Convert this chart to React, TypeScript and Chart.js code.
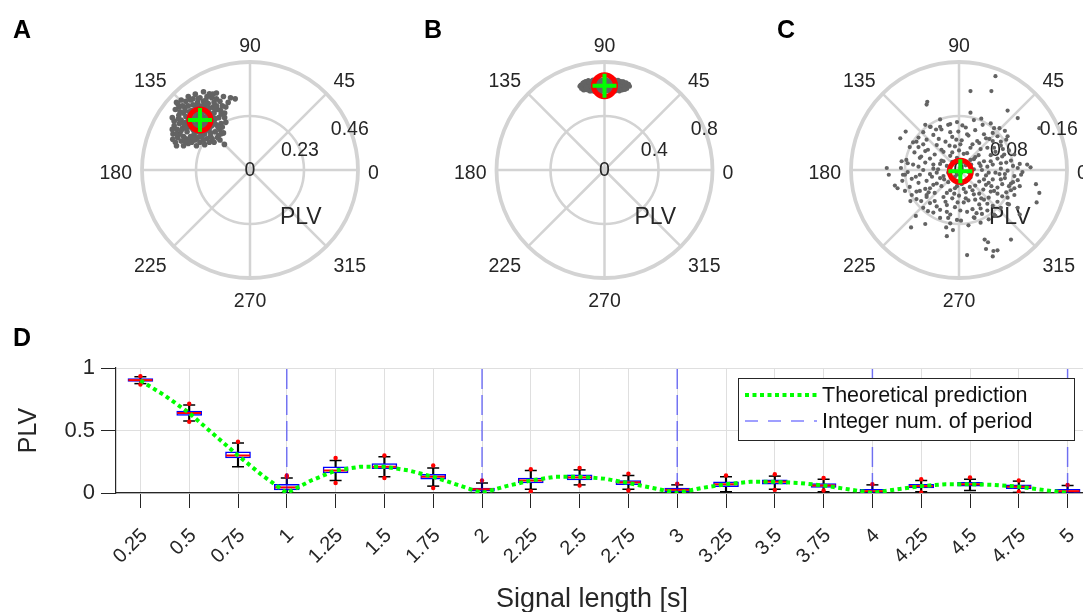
import React, { useEffect, useRef } from 'react';
import { Chart, registerables } from 'chart.js';

Chart.register(...registerables);

const FONT = '"Liberation Sans", Arial, Helvetica, sans-serif';
const TEXT = '#262626';
const POLAR_GRID = '#d3d3d3';
const CLOUD_COLOR = '#636363';

const ANGLES = [0, 45, 90, 135, 180, 225, 270, 315];
const ANGLE_LABELS = ['0', '45', '90', '135', '180', '225', '270', '315'];

// ---------- Panel A (offsets from the mean, in thousandths of PLV) ----------
const A_RINGS = [0.23, 0.46];
const A_RING_LABELS = ['0.23', '0.46'];
const A_MEAN = [-0.213, 0.213];
const A_CLOUD = [
  [0,0],[20,10],[-15,25],[35,-10],[-30,-20],[10,-35],[-40,5],[25,35],[45,20],[-20,-45],[5,45],[-45,35],[40,-35],[-10,-15],[15,-20],[30,0],[-25,0],[0,25],[-5,-30],[50,-5],
  [10,15],[-20,10],[30,20],[-35,-5],[15,-5],[5,-55],[-25,-60],[55,10],[-55,-25],[30,-25],[-15,45],[20,55],[-50,10],[65,5],[-70,-70],[80,-65],[-30,90],[50,95],[90,-15],[-90,55],
  [60,30],[-60,-10],[55,55],[-50,60],[-70,30],[70,-20],[-55,-50],[20,-60],[-30,65],[35,70],[-75,-35],[65,-50],[0,-70],[-10,75],[80,10],[-80,0],[45,-70],[-40,-70],[75,45],[15,80],
  [-65,55],[85,-40],[-85,-60],[30,-80],[-20,-85],[60,75],[-5,60],[40,50],[-35,40],[25,-45],[-60,15],[10,60],[50,-25],[-45,-30],[90,25],
  [95,60],[105,30],[110,-10],[100,-55],[85,-85],[104,-104],[60,-95],[20,-105],[-15,-110],[-50,-100],[-80,-90],[-105,-95],[-115,-60],[-110,-25],[-118,10],[-105,45],[-100,75],[-80,85],
  [-50,100],[-20,110],[15,120],[40,112],[70,115],[100,100],[130,95],[150,90],[120,75],[-95,-75],[-60,-80],[-110,-5],[-90,20],[70,90],[-70,-110],[-95,70],
  [-98,-40],[-88,-15],[-75,60],[-40,85],[0,95],[30,100],[85,80],[105,10],[95,-30],[75,-75],[40,-95],[0,-95],[-35,-95],[-100,-110],[-118,-40],[-60,-35],[-20,-25],[20,-10],[45,-55],
  [-5,10],[70,60],[-70,-15],[25,85],[-45,-85],[110,55],[-85,35],[60,-10],[-30,-40],[15,-85],[-10,-75],
  [-62,-92],[-28,-78],[8,-72],[52,-80],[92,-58],[-102,-60],[-92,5],[-64,40],[-22,62],[28,68],[62,48],[88,40],[-48,-12],[-12,-50],[38,-8],
  [-80,-45],[-38,20],[8,30],[40,30],[-8,90],[55,110],[-60,80],[-116,-82],[78,-32],[22,-28],
];

// ---------- Panel B ----------
const B_RINGS = [0.4, 0.8];
const B_RING_LABELS = ['0.4', '0.8'];
const B_MEAN = [0, 0.625];
const B_CLOUD = [
  [-175,5],[-165,-15],[-160,20],[-150,0],[-145,-30],[-140,30],[-130,10],[-125,-20],[-120,38],[-110,-40],[-105,15],[-100,-5],[-95,35],[-90,-25],[-85,42],[-80,0],
  [-75,-44],[-70,20],[-65,-15],[-60,35],[-55,-35],[-50,5],[-45,45],[-40,-20],[-35,25],[-30,-45],[-25,10],[-20,-10],[-15,40],[-10,-30],[-5,20],[0,-48],[5,0],[10,45],
  [15,-20],[20,30],[25,-40],[30,10],[35,-5],[40,40],[45,-30],[50,20],[55,-45],[60,0],[65,35],[70,-20],[75,44],[80,-40],[85,15],[90,-5],[95,30],[100,-30],[105,10],
  [110,-40],[115,33],[120,-15],[125,20],[130,-32],[135,5],[140,28],[145,-20],[150,10],[155,-10],[160,22],[165,-22],[170,0],[178,10],[185,-5],[-182,-5],[-170,-22],
  [-155,-32],[-135,-10],[-115,25],[-60,-5],[0,20],[60,-25],[-20,38],[20,-5],[100,40],[-100,-40],[130,28],[-130,-30],[-150,25],[150,-28],
];

// ---------- Panel C ----------
const C_RINGS = [0.08, 0.16];
const C_RING_LABELS = ['0.08', '0.16'];
const C_MEAN = [0.002, -0.002];
const C_CLOUD = [
  [-30,77],[-5,73],[20,76],[45,71],
  [-45,66],[-15,70],[8,65],[33,69],[58,64],
  [-55,58],[-28,62],[-3,59],[22,61],[48,57],[66,60],
  [-62,50],[-40,54],[-12,51],[12,53],[38,49],[55,52],
  [-70,43],[-50,47],[-22,44],[2,46],[28,42],[48,45],[68,47],
  [-75,36],[-35,39],[-8,37],[18,40],[40,35],[60,38],
  [-68,28],[-48,32],[-25,29],[-2,31],[10,27],[30,33],[52,29],[72,31],
  [-58,22],[-38,25],[-15,23],[5,26],[22,21],[45,24],[62,22],[80,25],
  [-80,17],[-45,19],[-28,16],[-5,20],[15,17],[35,15],[55,19],[75,16],
  [-70,10],[-52,13],[-30,11],[-12,14],[8,9],[28,12],[48,10],[68,13],[88,11],
  [-88,5],[-62,7],[-40,4],[-20,8],[0,5],[20,3],[40,7],[60,4],[78,8],
  [-78,-1],[-55,2],[-35,-2],[-15,1],[12,-1],[32,2],[52,-2],[70,1],[92,-1],
  [-85,-5],[-66,-8],[-45,-4],[-25,-7],[-5,-5],[15,-9],[38,-6],[58,-4],[80,-7],
  [-72,-11],[-50,-14],[-30,-10],[-10,-13],[10,-11],[28,-15],[48,-12],[66,-10],[85,-13],
  [-62,-17],[-40,-20],[-18,-16],[2,-19],[22,-21],[42,-17],[62,-19],[78,-16],
  [-75,-23],[-52,-26],[-28,-22],[-8,-25],[14,-23],[34,-27],[55,-24],[72,-22],
  [-60,-29],[-38,-32],[-15,-28],[8,-31],[28,-33],[50,-29],[68,-31],
  [-50,-35],[-25,-38],[-2,-36],[20,-34],[42,-39],[62,-37],[80,-35],
  [-65,-41],[-38,-44],[-12,-40],[12,-43],[35,-42],[55,-45],
  [-45,-47],[-20,-50],[5,-46],[28,-49],[48,-51],[70,-48],
  [-55,-54],[-30,-57],[-8,-53],[18,-56],[40,-58],[60,-54],
  [-40,-61],[-15,-64],[10,-60],[32,-63],[52,-66],
  [-30,-69],[-5,-72],[20,-68],[42,-71],
  [-15,-77],[12,-80],[30,-76],
  [-40,10],[-18,-2],[2,12],[25,-5],[45,15],[-35,-18],[-5,-22],[18,-28],[38,-20],[-28,32],[0,40],[25,45],[-50,-38],[-22,-45],[8,-40],
  [30,-55],[-60,20],[60,-12],[-45,-25],[45,-30],[-12,28],[15,35],[-32,48],[35,55],[-65,-30],[65,25],[-8,-8],[8,-15],[30,8],[-25,15],
  [50,35],[-55,40],[22,-42],[-35,-52],[0,-58],[40,-48],[-15,58],[10,55],[75,-28],[-78,12],[85,5],[-20,-32],[20,18],[-42,-8],[42,-2],
  [-33,3],[-9,-33],[14,-2],[35,-12],[55,-33],[-20,-60],[-47,-31],[-60,-5],[-6,47],[27,24],[43,48],[-52,30],[5,-26],[66,-4],[-16,38],
  [-72,-35],[24,-62],[60,12],[-36,62],[3,68],[75,-18],[-86,-14],[88,-22],[16,10],[-24,-12],[46,-22],[-4,-46],[-58,-44],[31,-40],[63,33],
  [52,141],[15,119],[46,119],[-49,103],[-50,99],[15,87],[70,90],[85,79],[-52,69],[-44,66],[-89,49],[-81,59],[117,64],[70,52],[-65,44],
  [-62,36],[-109,5],[-106,-5],[99,10],[104,6],[-97,-21],[-93,-25],[-82,-29],[112,-19],[117,-32],[113,-46],[-66,-66],[-52,-78],[-73,-83],
  [-21,-83],[-11,-87],[-20,-96],[36,-101],[41,-105],[38,-115],[49,-118],[55,-117],[75,-101],[10,-124],[48,-126],[88,-64],[85,-54],[72,-49],
  [-30,66],[-18,69],[31,78],[50,64],[60,44],[-18,-69],[1,-73],[21,-69],[50,-64],[70,-39],[80,-25],[90,-5],[-87,15],[-82,-5],[-74,-44],[-48,-59],
];

// ---------- Panel D ----------
const LENGTHS = [0.25, 0.5, 0.75, 1, 1.25, 1.5, 1.75, 2, 2.25, 2.5, 2.75, 3, 3.25, 3.5, 3.75, 4, 4.25, 4.5, 4.75, 5];
const TICK_LABELS = ['0.25', '0.5', '0.75', '1', '1.25', '1.5', '1.75', '2', '2.25', '2.5', '2.75', '3', '3.25', '3.5', '3.75', '4', '4.25', '4.5', '4.75', '5'];
const WHISK_LO = [0.875, 0.576, 0.21, 0.0, 0.10, 0.13, 0.055, 0.0, 0.03, 0.065, 0.03, 0.0, 0.01, 0.03, 0.01, 0.0, 0.01, 0.02, 0.005, 0.0];
const Q1 = [0.893, 0.62, 0.28, 0.025, 0.16, 0.195, 0.11, 0.015, 0.08, 0.105, 0.067, 0.01, 0.05, 0.07, 0.045, 0.005, 0.04, 0.055, 0.035, 0.005];
const MEDIAN = [0.903, 0.64, 0.30, 0.045, 0.18, 0.21, 0.13, 0.03, 0.10, 0.125, 0.085, 0.025, 0.07, 0.09, 0.06, 0.015, 0.055, 0.07, 0.05, 0.015];
const Q3 = [0.915, 0.656, 0.33, 0.07, 0.21, 0.235, 0.15, 0.04, 0.12, 0.145, 0.10, 0.04, 0.09, 0.105, 0.075, 0.03, 0.07, 0.085, 0.065, 0.03];
const WHISK_HI = [0.93, 0.704, 0.40, 0.12, 0.26, 0.29, 0.20, 0.08, 0.18, 0.185, 0.14, 0.065, 0.13, 0.135, 0.11, 0.065, 0.10, 0.11, 0.095, 0.06];
const OUTLIERS = [
  [0.25, 0.935], [0.25, 0.868], [0.5, 0.714], [0.5, 0.57], [0.75, 0.41], [1, 0.13], [1, 0.14], [1.25, 0.28], [1.25, 0.08],
  [1.5, 0.30], [1.5, 0.12], [1.75, 0.22], [1.75, 0.04], [2, 0.10], [2.25, 0.19], [2.25, 0.015], [2.5, 0.20], [2.5, 0.06],
  [2.75, 0.155], [2.75, 0.02], [3, 0.075], [3.25, 0.14], [3.5, 0.15], [3.5, 0.025], [3.75, 0.12], [3.75, 0.02], [4, 0.07],
  [4.25, 0.11], [4.25, 0.005], [4.5, 0.125], [4.75, 0.10], [4.75, 0.01], [5, 0.065],
];
const THEORY_X = [0.25, 0.375, 0.5, 0.625, 0.75, 0.875, 1, 1.125, 1.25, 1.375, 1.5, 1.625, 1.75, 1.875, 2, 2.125, 2.25, 2.375, 2.5, 2.625, 2.75, 2.875, 3, 3.125, 3.25, 3.375, 3.5, 3.625, 3.75, 3.875, 4, 4.125, 4.25, 4.375, 4.5, 4.625, 4.75, 4.875, 5];
const THEORY_Y = [0.90, 0.78, 0.64, 0.47, 0.30, 0.14, 0.0, 0.10, 0.18, 0.21, 0.21, 0.18, 0.13, 0.065, 0.0, 0.055, 0.10, 0.13, 0.13, 0.115, 0.08, 0.04, 0.0, 0.04, 0.07, 0.09, 0.09, 0.08, 0.06, 0.03, 0.0, 0.03, 0.055, 0.07, 0.07, 0.065, 0.05, 0.025, 0.0];
const INTEGER_PERIODS = [1, 2, 3, 4, 5];
const Y_TICKS = [0, 0.5, 1];
const X_TITLE = 'Signal length [s]';

// ---------- polar grid plugin ----------
const polarGridPlugin: any = {
  id: 'polarGrid',
  beforeDatasetsDraw(chart: any, _args: any, o: any) {
    const { ctx } = chart;
    const xs = chart.scales.x, ys = chart.scales.y;
    const cx = xs.getPixelForValue(0), cy = ys.getPixelForValue(0);
    const rings: number[] = o.rings;
    const rOuter = xs.getPixelForValue(rings[rings.length - 1]) - cx;
    ctx.save();
    ctx.strokeStyle = POLAR_GRID;
    ctx.lineWidth = 2.5;
    ANGLES.forEach((a) => {
      const t = (a * Math.PI) / 180;
      ctx.beginPath();
      ctx.moveTo(cx, cy);
      ctx.lineTo(cx + rOuter * Math.cos(t), cy - rOuter * Math.sin(t));
      ctx.stroke();
    });
    rings.forEach((v, i) => {
      const rr = xs.getPixelForValue(v) - cx;
      ctx.lineWidth = i === rings.length - 1 ? 3.8 : 2.6;
      ctx.beginPath();
      ctx.arc(cx, cy, rr, 0, Math.PI * 2);
      ctx.stroke();
    });
    // angle labels
    ctx.fillStyle = TEXT;
    const fs = 19.5;
    ctx.font = `${fs}px ${FONT}`;
    ctx.textBaseline = 'alphabetic';
    ANGLES.forEach((a, i) => {
      const t = (a * Math.PI) / 180;
      const c = Math.cos(t), s = Math.sin(t);
      const px = cx + (rOuter + 10) * c;
      const py = cy - (rOuter + 10) * s;
      ctx.textAlign = c > 0.1 ? 'left' : c < -0.1 ? 'right' : 'center';
      let by = py;
      if (s < -0.1) by = py + 5 + fs * 0.72;
      else if (Math.abs(s) <= 0.1) by = py + 9;
      ctx.fillText(ANGLE_LABELS[i], px, by);
    });
    // radial labels
    ctx.textAlign = 'center';
    ctx.textBaseline = 'middle';
    ctx.fillText('0', cx, cy + 1);
    const ra = (22.5 * Math.PI) / 180;
    rings.forEach((v, i) => {
      const rr = xs.getPixelForValue(v) - cx;
      ctx.fillText(o.ringLabels[i], cx + rr * Math.cos(ra), cy - rr * Math.sin(ra) + 1);
    });
    ctx.font = `23px ${FONT}`;
    ctx.fillText('PLV', cx + 0.47 * rOuter, cy + 0.445 * rOuter);
    // panel letter
    ctx.font = `bold 25px ${FONT}`;
    ctx.fillStyle = '#000';
    ctx.textAlign = 'left';
    ctx.textBaseline = 'alphabetic';
    ctx.fillText(o.letter, o.letterX, 38);
    ctx.restore();
  },
};

function PolarPanel(props: any) {
  const { left, width, height, cx, cy, r, rings, ringLabels, mean, cloud, dot, letter, letterX } = props;
  const ref = useRef<HTMLCanvasElement>(null);
  useEffect(() => {
    const rmax = rings[rings.length - 1];
    const pts = cloud.map((p: number[]) => ({ x: mean[0] + p[0] / 1000, y: mean[1] + p[1] / 1000 }));
    const chart = new Chart(ref.current as HTMLCanvasElement, {
      type: 'scatter',
      data: {
        datasets: [
          {
            data: [{ x: mean[0], y: mean[1] }],
            pointStyle: 'cross',
            pointRadius: 12,
            borderWidth: 4,
            borderColor: '#00ff00',
            backgroundColor: '#00ff00',
          },
          {
            data: [{ x: mean[0], y: mean[1] }],
            pointStyle: 'circle',
            pointRadius: 11,
            borderWidth: 5,
            borderColor: '#ff0000',
            backgroundColor: 'rgba(0,0,0,0)',
          },
          {
            data: pts,
            pointStyle: 'circle',
            pointRadius: dot,
            borderWidth: 0,
            backgroundColor: CLOUD_COLOR,
          },
        ] as any,
      },
      options: {
        responsive: false,
        animation: false,
        events: [],
        layout: { padding: { left: cx - r, right: width - cx - r, top: cy - r, bottom: height - cy - r } },
        scales: {
          x: { display: false, min: -rmax, max: rmax },
          y: { display: false, min: -rmax, max: rmax },
        },
        plugins: {
          legend: { display: false },
          tooltip: { enabled: false },
          polarGrid: { rings, ringLabels, letter, letterX },
        } as any,
      },
      plugins: [polarGridPlugin],
    });
    return () => chart.destroy();
  }, []);
  return <canvas ref={ref} width={width} height={height} style={{ position: 'absolute', left, top: 0, width, height }} />;
}

// ---------- box plot panel ----------
const boxDecorPlugin: any = {
  id: 'boxDecor',
  afterDatasetsDraw(chart: any) {
    const { ctx, chartArea } = chart;
    const ds = chart.data.datasets;
    const w = 336, h = 62;
    const lx = chartArea.right - 18 - w;
    const ly = chartArea.top + 10;
    ctx.save();
    ctx.fillStyle = '#ffffff';
    ctx.fillRect(lx, ly, w, h);
    ctx.strokeStyle = TEXT;
    ctx.lineWidth = 1;
    ctx.strokeRect(lx + 0.5, ly + 0.5, w, h);
    [0, 1].forEach((k) => {
      const d = ds[k];
      const yy = ly + 17 + k * 26;
      ctx.strokeStyle = d.borderColor;
      ctx.lineWidth = d.borderWidth;
      ctx.setLineDash(k === 0 ? d.borderDash : [13, 10]);
      ctx.beginPath();
      ctx.moveTo(lx + 7, yy);
      ctx.lineTo(lx + 79, yy);
      ctx.stroke();
      ctx.setLineDash([]);
      ctx.fillStyle = '#111';
      ctx.font = `21.5px ${FONT}`;
      ctx.textAlign = 'left';
      ctx.textBaseline = 'middle';
      ctx.fillText(d.label, lx + 84, yy + 1);
    });
    ctx.restore();
  },
  afterDraw(chart: any) {
    const { ctx } = chart;
    ctx.save();
    ctx.font = `bold 25px ${FONT}`;
    ctx.fillStyle = '#000';
    ctx.textAlign = 'left';
    ctx.textBaseline = 'alphabetic';
    ctx.fillText('D', 13, 26);
    ctx.font = `27px ${FONT}`;
    ctx.fillStyle = TEXT;
    ctx.textAlign = 'center';
    ctx.fillText(X_TITLE, 592, 287);
    ctx.restore();
  },
};

function BoxPanel() {
  const ref = useRef<HTMLCanvasElement>(null);
  useEffect(() => {
    const integerLine: any[] = [];
    INTEGER_PERIODS.forEach((p) => {
      integerLine.push({ x: p, y: 0 }, { x: p, y: 1 }, { x: p, y: null });
    });
    const datasets: any[] = [
      {
        type: 'line',
        label: 'Theoretical prediction',
        data: THEORY_X.map((x, i) => ({ x, y: THEORY_Y[i] })),
        borderColor: '#00ff00',
        borderWidth: 4,
        borderDash: [4, 3.5],
        pointRadius: 0,
        fill: false,
        tension: 0,
      },
      {
        type: 'line',
        label: 'Integer num. of period',
        data: integerLine,
        borderColor: 'rgba(0,0,255,0.5)',
        borderWidth: 1.5,
        borderDash: [20, 6],
        pointRadius: 0,
        spanGaps: false,
        fill: false,
      },
      {
        type: 'scatter',
        label: 'outliers',
        data: OUTLIERS.map((p) => ({ x: p[0], y: p[1] })),
        pointStyle: 'circle',
        pointRadius: 2.2,
        borderWidth: 0,
        backgroundColor: '#ff0000',
      },
      {
        type: 'scatter',
        label: 'median',
        data: LENGTHS.map((x, i) => ({ x, y: MEDIAN[i] })),
        pointStyle: 'line',
        pointRadius: 12,
        borderWidth: 2,
        borderColor: '#ff0000',
      },
      {
        type: 'bar',
        label: 'box',
        data: LENGTHS.map((x, i) => ({ x, y: [Q1[i], Q3[i]] })),
        backgroundColor: '#ffffff',
        borderColor: '#0000ff',
        borderWidth: 1.5,
        borderSkipped: false,
        grouped: false,
        barThickness: 25,
        maxBarThickness: 25,
      },
      {
        type: 'scatter',
        label: 'caps',
        data: [
          ...LENGTHS.map((x, i) => ({ x, y: WHISK_LO[i] })),
          ...LENGTHS.map((x, i) => ({ x, y: WHISK_HI[i] })),
        ],
        pointStyle: 'line',
        pointRadius: 6,
        borderWidth: 1.5,
        borderColor: '#000000',
      },
      {
        type: 'bar',
        label: 'whisker low',
        data: LENGTHS.map((x, i) => ({ x, y: [WHISK_LO[i], Q1[i]] })),
        backgroundColor: '#000000',
        borderWidth: 0,
        grouped: false,
        barThickness: 1.5,
        maxBarThickness: 1.5,
      },
      {
        type: 'bar',
        label: 'whisker high',
        data: LENGTHS.map((x, i) => ({ x, y: [Q3[i], WHISK_HI[i]] })),
        backgroundColor: '#000000',
        borderWidth: 0,
        grouped: false,
        barThickness: 1.5,
        maxBarThickness: 1.5,
      },
    ];
    const chart = new Chart(ref.current as HTMLCanvasElement, {
      type: 'bar',
      data: { datasets },
      options: {
        responsive: false,
        animation: false,
        events: [],
        layout: { padding: { left: 0, top: 48, right: 8, bottom: 0 } },
        scales: {
          x: {
            type: 'linear',
            min: 0.125,
            max: 5.125,
            offset: false,
            afterBuildTicks: (s: any) => {
              s.ticks = LENGTHS.map((v) => ({ value: v }));
            },
            afterFit: (s: any) => {
              s.height = 119;
            },
            grid: { color: '#dfdfdf', tickColor: TEXT, tickLength: 15, offset: false, lineWidth: 1 },
            border: { color: TEXT, width: 1.2 },
            ticks: {
              autoSkip: false,
              maxRotation: 45,
              minRotation: 45,
              padding: 16,
              labelOffset: 4,
              color: TEXT,
              font: { family: FONT, size: 20 },
              callback: (_v: any, i: number) => TICK_LABELS[i],
            },
            title: { display: false },
          },
          y: {
            type: 'linear',
            min: 0,
            max: 1,
            afterBuildTicks: (s: any) => {
              s.ticks = Y_TICKS.map((v) => ({ value: v }));
            },
            afterFit: (s: any) => {
              s.width = 116;
            },
            grid: { color: '#dfdfdf', tickColor: TEXT, tickLength: 15, lineWidth: 1 },
            border: { color: TEXT, width: 1.2 },
            ticks: {
              padding: 6,
              color: TEXT,
              font: { family: FONT, size: 22 },
              callback: (v: any) => String(v),
            },
            title: {
              display: true,
              text: 'PLV',
              color: TEXT,
              font: { family: FONT, size: 25 },
              padding: { top: 14, bottom: 0 },
            },
          },
        } as any,
        plugins: {
          legend: { display: false },
          tooltip: { enabled: false },
        },
      },
      plugins: [boxDecorPlugin],
    });
    return () => chart.destroy();
  }, []);
  return <canvas ref={ref} width={1106} height={292} style={{ position: 'absolute', left: 0, top: 320, width: 1106, height: 292 }} />;
}

export default function App() {
  return (
    <div style={{ position: 'fixed', left: 0, top: 0, width: 1083, height: 612, overflow: 'hidden', background: '#ffffff' }}>
      <PolarPanel left={0} width={390} height={320} cx={250} cy={170} r={108}
        rings={A_RINGS} ringLabels={A_RING_LABELS} mean={A_MEAN} cloud={A_CLOUD} dot={2.8} letter="A" letterX={13} />
      <PolarPanel left={390} width={370} height={320} cx={214.5} cy={170} r={108}
        rings={B_RINGS} ringLabels={B_RING_LABELS} mean={B_MEAN} cloud={B_CLOUD} dot={2.5} letter="B" letterX={34} />
      <PolarPanel left={760} width={330} height={320} cx={199} cy={170} r={108}
        rings={C_RINGS} ringLabels={C_RING_LABELS} mean={C_MEAN} cloud={C_CLOUD} dot={2.1} letter="C" letterX={17} />
      <BoxPanel />
    </div>
  );
}
